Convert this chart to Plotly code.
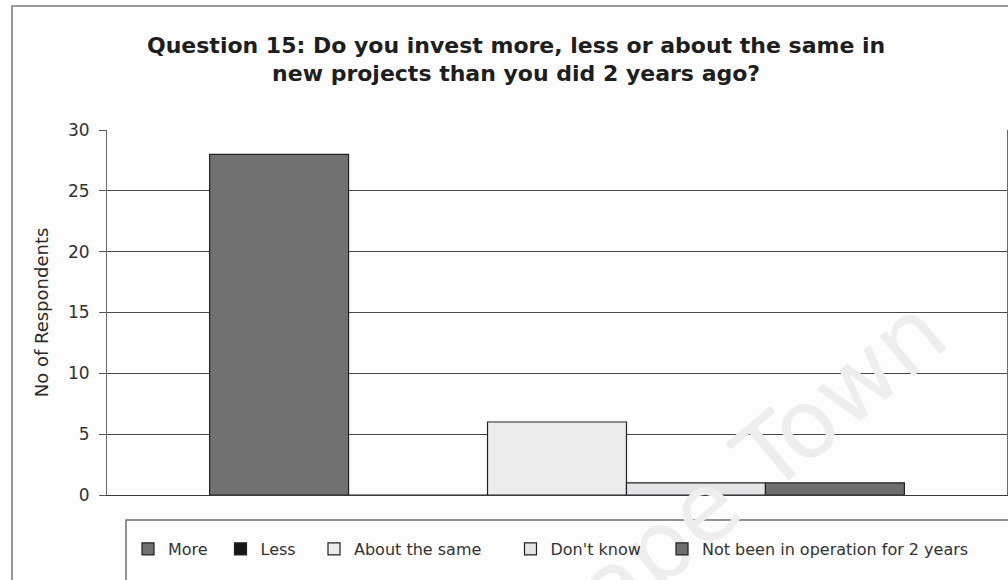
import plotly.graph_objects as go

# Survey responses for Question 15
series = ["More", "Less", "About the same", "Don't know", "Not been in operation for 2 years"]
respondents = [28, 0, 6, 1, 1]
category = ["Q15"]

fills = ["#717171", "#161616", "#ececec", "#e4e4e6", "#6e6e6e"]
entry_widths = [47.5, 48.5, 151.5, 106.5, None]

W, H = 1008, 580
ML, MR, MT, MB = 107, 1, 130, 85
PW, PH = W - ML - MR, H - MT - MB


def px_x(x):
    return (x - ML) / PW


def px_y(y):
    return (H - MB - y) / PH


fig = go.Figure()
for name, val, col, ew in zip(series, respondents, fills, entry_widths):
    fig.add_trace(go.Bar(
        x=category, y=[val], name=name,
        marker=dict(color=col, line=dict(color="#222222", width=1.2)),
        legendwidth=ew,
    ))

font_family = "DejaVu Sans, Arial, sans-serif"

fig.update_layout(
    width=W, height=H,
    margin=dict(l=ML, r=MR, t=MT, b=MB, autoexpand=False),
    paper_bgcolor="#fdfdfd", plot_bgcolor="#fdfdfd",
    barmode="group", bargap=0.228, bargroupgap=0,
    font=dict(family=font_family, color="#2a2a2a"),
    title=dict(
        text="Question 15: Do you invest more, less or about the same in<br>new projects than you did 2 years ago?",
        x=0.512, xanchor="center", y=0.909, yanchor="top",
        font=dict(size=22, family=font_family, color="#1e1e1e", weight="bold"),
    ),
    xaxis=dict(showticklabels=False, ticks="", showgrid=False,
               showline=True, linecolor="#3a3a3a", linewidth=1.2, zeroline=False),
    yaxis=dict(range=[0, 30], dtick=5, showgrid=True, gridcolor="#4a4a4a", gridwidth=1,
               showline=True, linecolor="#6a6a6a", linewidth=1, mirror=True,
               ticks="outside", ticklen=7, tickcolor="#555555", ticklabelstandoff=6,
               tickfont=dict(size=17, color="#333333"), zeroline=False,
               title=dict(text="No of Respondents", standoff=14,
                          font=dict(size=18, color="#2a2a2a"))),
    legend=dict(orientation="h", xref="container", yref="container",
                x=128 / W, xanchor="left", y=1 - 549 / H, yanchor="middle",
                font=dict(size=16, color="#333333"),
                bgcolor="rgba(0,0,0,0)", borderwidth=0,
                itemclick=False, traceorder="normal"),
    showlegend=True,
)

# chart frame and legend box
fig.add_shape(type="rect", xref="paper", yref="paper",
              x0=px_x(12), x1=px_x(1030), y0=px_y(600), y1=px_y(6),
              line=dict(color="#7a7a7a", width=1.5), fillcolor="rgba(0,0,0,0)", layer="below")
fig.add_shape(type="rect", xref="paper", yref="paper",
              x0=px_x(126), x1=px_x(1030), y0=px_y(600), y1=px_y(520),
              line=dict(color="#6e6e6e", width=1.5), fillcolor="rgba(0,0,0,0)", layer="below")

# repository watermark, kept under the legend
fig.add_shape(type="rect", xref="paper", yref="paper",
              x0=px_x(726), x1=px_x(736), y0=px_y(482), y1=px_y(472),
              line=dict(width=0), fillcolor="rgba(0,0,0,0)", layer="above",
              label=dict(text="Cape Town", textangle=-40, textposition="middle center",
                         font=dict(size=95, family=font_family, color="#eeeeee")))

fig.write_html("out.html")
